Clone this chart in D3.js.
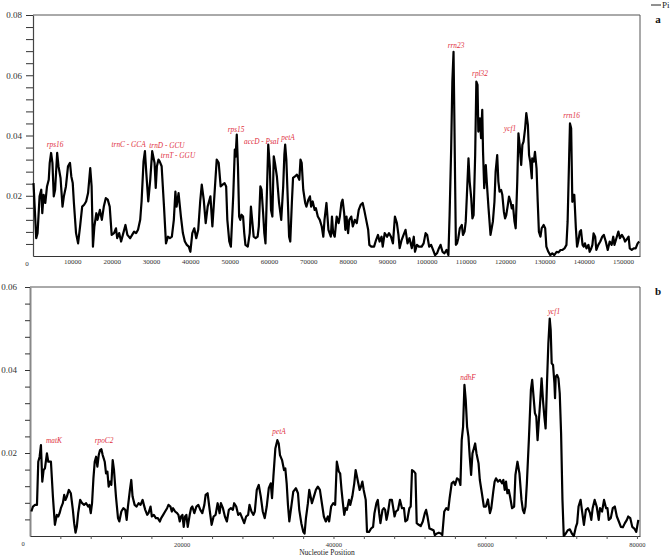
<!DOCTYPE html>
<html>
<head>
<meta charset="utf-8">
<script src="https://cdnjs.cloudflare.com/ajax/libs/d3/7.8.5/d3.min.js"></script>
<style>
	body { margin: 0; background: #fff; }
	svg text { font-family: 'Liberation Serif', 'DejaVu Serif', serif; }
</style>
</head>
<body>
<div id="chart"></div>
<script>

// sliding window Pi, [position in kb, Pi]
const piA = [
	[0.13,.0242],[0.82,.0059],[1.16,.0076],[1.67,.0198],[2.1,.022],[2.36,.0142],[2.7,.0203],[3.13,.0176],[3.56,.0231],[4.0,.0253],
	[4.25,.0309],[4.6,.0342],[4.94,.0309],[5.28,.0198],[5.62,.022],[6.14,.0342],[6.48,.0298],[7.0,.0259],[7.5,.0164],[7.85,.0198],
	[8.37,.0231],[8.9,.0298],[9.4,.0309],[9.74,.0264],[10.1,.0242],[10.4,.0176],[10.94,.0076],[11.46,.0042],[11.97,.0098],[12.5,.0164],
	[13.0,.017],[13.5,.0181],[14.0,.0209],[14.55,.0292],[14.9,.0231],[15.24,.0031],[15.6,.0098],[16.1,.0142],[16.4,.012],[17.0,.0153],
	[17.5,.012],[18.0,.0164],[18.5,.0192],[19.0,.0187],[19.5,.0164],[20.0,.007],[20.6,.0076],[21.1,.0092],[21.4,.0059],[21.9,.0076],
	[22.4,.0048],[22.96,.0076],[23.5,.0103],[24.0,.007],[24.7,.0059],[25.2,.007],[25.7,.0081],[26.2,.0076],[26.7,.0087],[27.25,.012],
	[27.6,.0181],[28.1,.0314],[28.45,.0348],[28.8,.0276],[29.3,.0181],[29.8,.0253],[30.3,.0348],[30.9,.0309],[31.2,.0226],[31.5,.0298],
	[31.9,.032],[32.2,.0314],[32.7,.0298],[33.3,.0164],[33.8,.0042],[34.3,.0064],[34.8,.0059],[35.3,.0064],[35.8,.012],[36.2,.0214],
	[36.5,.0164],[37.0,.0209],[37.6,.0131],[38.1,.0076],[38.6,.0048],[39.1,.0037],[39.6,.0031],[40.0,.0014],[40.5,.0076],[41.0,.0092],
	[41.5,.0059],[42.0,.0087],[42.5,.0181],[42.9,.0237],[43.4,.0187],[43.9,.0109],[44.4,.0164],[45.1,.0198],[45.6,.0098],[46.1,.0198],
	[46.7,.032],[47.2,.0309],[47.7,.0231],[48.2,.0237],[48.7,.0242],[49.1,.0231],[49.4,.012],[49.9,.0048],[50.3,.0031],[50.9,.02],
	[51.3,.0353],[51.5,.033],[51.8,.0403],[52.1,.0298],[52.4,.0131],[52.7,.012],[53.0,.0137],[53.4,.0131],[53.7,.0076],[54.0,.0037],
	[54.6,.0031],[55.1,.0076],[55.4,.0164],[55.7,.012],[56.1,.0064],[56.6,.0059],[57.1,.0064],[57.4,.0098],[57.8,.0231],[58.1,.022],
	[58.5,.0142],[58.8,.0076],[59.1,.0042],[59.5,.0231],[59.8,.037],[60.2,.0298],[60.5,.0153],[60.85,.0131],[61.2,.0331],[61.5,.0309],
	[62.0,.0264],[62.55,.0176],[63.1,.012],[63.6,.0231],[63.9,.0337],[64.1,.037],[64.4,.032],[64.8,.0176],[65.1,.0064],[65.4,.0048],
	[65.8,.0176],[66.1,.0259],[66.6,.0264],[67.1,.027],[67.7,.0253],[68.0,.032],[68.3,.0309],[68.7,.022],[69.2,.0176],[69.5,.0164],
	[70.0,.0187],[70.4,.0198],[70.7,.0164],[71.1,.0181],[71.6,.0153],[71.9,.0159],[72.4,.0131],[72.9,.012],[73.4,.0098],[73.8,.0064],
	[74.1,.012],[74.6,.0176],[75.1,.0087],[75.7,.0064],[76.0,.0131],[76.3,.0076],[76.7,.0064],[77.2,.0131],[77.7,.0109],[78.0,.0131],
	[78.4,.0176],[78.7,.0187],[79.1,.0142],[79.4,.0087],[79.7,.0131],[80.1,.0076],[80.4,.012],[80.9,.0131],[81.3,.0098],[81.8,.012],
	[82.3,.0109],[82.8,.0153],[83.3,.017],[83.8,.0176],[84.2,.0153],[84.7,.012],[85.2,.0087],[85.5,.0037],[86.0,.0031],[86.7,.0031],
	[87.2,.0053],[87.7,.007],[88.1,.0048],[88.6,.0064],[88.9,.0031],[89.4,.0076],[90.0,.0064],[90.5,.0076],[91.0,.0064],[91.5,.0042],
	[92.0,.0131],[92.5,.0109],[92.9,.007],[93.2,.0026],[93.7,.0053],[94.2,.007],[94.7,.0087],[95.2,.0042],[95.7,.0059],[96.3,.0026],
	[96.8,.0064],[97.1,.0014],[97.6,.0037],[98.1,.0031],[98.8,.0031],[99.3,.0042],[99.8,.0076],[100.2,.007],[100.7,.0031],[101.2,.0037],
	[101.7,.002],[102.2,.0003],[102.7,.0009],[103.2,.0026],[103.6,.0037],[104.1,.0014],[104.6,.0009],[105.1,.002],[105.6,.0003],[105.9,.0136],
	[106.3,.0357],[106.6,.0579],[106.9,.0678],[107.1,.0468],[107.3,.0247],[107.5,.0037],[107.8,.0042],[108.1,.0059],[108.5,.0092],[109.0,.0103],
	[109.3,.007],[109.7,.0081],[110.0,.0114],[110.3,.0203],[110.7,.0324],[111.0,.0247],[111.4,.0192],[111.7,.0125],[112.0,.0136],[112.4,.0335],
	[112.7,.0579],[113.0,.0568],[113.2,.0413],[113.6,.0457],[113.9,.0391],[114.2,.0485],[114.4,.0346],[114.7,.0225],[115.1,.0302],[115.4,.0236],
	[115.8,.0158],[116.3,.007],[116.6,.0092],[116.9,.0114],[117.3,.018],[117.6,.028],[118.0,.0335],[118.3,.0247],[118.6,.0214],[119.0,.0219],
	[119.3,.0203],[119.7,.0147],[120.0,.0125],[120.3,.0136],[120.7,.0169],[121.0,.0197],[121.4,.018],[121.7,.0158],[122.0,.0169],[122.4,.0114],
	[122.7,.0092],[123.1,.0247],[123.4,.0407],[123.7,.0369],[124.1,.0302],[124.4,.0369],[124.7,.038],[125.1,.0424],[125.4,.0474],[125.8,.0435],
	[126.1,.0335],[126.4,.0313],[126.8,.0258],[126.9,.0324],[127.3,.0313],[127.6,.0346],[128.0,.0291],[128.3,.018],[128.6,.0081],[129.0,.0064],
	[129.3,.0092],[129.8,.0103],[130.2,.0092],[130.5,.0031],[131.0,.0014],[131.5,.0003],[132.0,.0009],[132.5,.0003],[133.1,.0014],[133.6,.0012],
	[134.1,.002],[134.6,.002],[135.1,.0025],[135.6,.0037],[135.9,.0114],[136.3,.0335],[136.5,.044],[136.8,.0424],[137.1,.018],[137.4,.0203],
	[137.6,.0203],[138.0,.0092],[138.3,.0031],[138.6,.0048],[139.0,.0081],[139.3,.0086],[139.7,.0037],[140.0,.0031],[140.3,.0042],[140.7,.0025],
	[141.2,.0037],[141.5,.0014],[141.9,.0025],[142.2,.0037],[142.5,.0075],[142.9,.0064],[143.2,.002],[143.7,.0037],[144.2,.0048],[144.7,.0064],
	[145.1,.007],[145.6,.0048],[146.1,.002],[146.6,.0048],[147.1,.0037],[147.5,.0064],[147.8,.0037],[148.3,.0059],[148.8,.0081],[149.2,.0059],
	[149.7,.007],[150.2,.0059],[150.5,.0048],[150.8,.0053],[151.4,.0064],[151.7,.0025],[152.2,.002],[152.7,.0025],[153.2,.0025],[153.7,.0042],
	[154.1,.0048]
];

const piB = [
	[0.18,.0059],[0.39,.0071],[0.66,.0075],[0.92,.0075],[1.09,.0179],[1.27,.0191],[1.44,.0219],[1.62,.0131],[1.79,.0159],[1.97,.0163],
	[2.23,.0199],[2.41,.0179],[2.58,.0179],[2.76,.0179],[3.02,.0095],[3.28,.0027],[3.54,.0051],[3.72,.0047],[3.9,.0055],[4.07,.0067],
	[4.33,.0079],[4.51,.0099],[4.68,.0087],[4.86,.0095],[5.12,.0111],[5.38,.0103],[5.65,.0063],[5.82,.0031],[6.0,.0008],[6.17,.0022],
	[6.35,.0055],[6.61,.0087],[6.87,.0079],[7.13,.0075],[7.4,.0079],[7.66,.0071],[7.83,.0075],[8.01,.0055],[8.18,.0079],[8.36,.0139],
	[8.53,.0179],[8.71,.0191],[8.88,.0167],[9.06,.0195],[9.23,.0207],[9.41,.0209],[9.58,.0195],[9.85,.0179],[10.02,.0151],[10.2,.0155],
	[10.37,.0119],[10.55,.0131],[10.72,.0123],[10.9,.0183],[11.07,.0159],[11.33,.0095],[11.6,.0043],[11.77,.0035],[12.04,.0059],[12.3,.0067],
	[12.56,.0063],[12.74,.0039],[12.91,.0071],[13.17,.0111],[13.35,.0135],[13.52,.0095],[13.79,.0075],[14.05,.0071],[14.31,.0079],[14.57,.0075],
	[14.84,.0087],[15.01,.0075],[15.19,.0063],[15.45,.0051],[15.62,.0055],[15.89,.0071],[16.06,.0047],[16.32,.0051],[16.59,.0043],[16.85,.0043],
	[17.11,.0035],[17.29,.0043],[17.55,.0051],[17.81,.0059],[18.07,.0067],[18.25,.0075],[18.51,.0071],[18.69,.0059],[18.86,.0067],[19.12,.0059],
	[19.39,.0055],[19.56,.0051],[19.74,.0035],[19.91,.0047],[20.09,.0051],[20.26,.0022],[20.44,.0047],[20.61,.0051],[20.79,.0022],[21.05,.0051],
	[21.23,.0067],[21.4,.0071],[21.66,.0055],[21.93,.0071],[22.19,.0075],[22.45,.0063],[22.71,.0055],[22.98,.0075],[23.15,.0099],[23.41,.0103],
	[23.68,.0063],[23.94,.0027],[24.2,.0047],[24.46,.0051],[24.73,.0079],[24.99,.0055],[25.16,.0079],[25.43,.0067],[25.69,.0047],[25.95,.0035],
	[26.21,.0063],[26.48,.0067],[26.74,.0063],[26.91,.0079],[27.18,.0071],[27.44,.0051],[27.7,.0055],[27.97,.0043],[28.23,.0031],[28.49,.0047],
	[28.75,.0051],[28.93,.0075],[29.19,.0059],[29.45,.0051],[29.63,.0059],[29.89,.0111],[30.15,.0123],[30.42,.0095],[30.68,.0059],[30.94,.0043],
	[31.2,.0071],[31.47,.0115],[31.73,.0127],[31.9,.0091],[32.08,.0143],[32.34,.0211],[32.6,.0231],[32.78,.0223],[32.95,.0195],[33.22,.0183],
	[33.48,.0159],[33.65,.0163],[33.83,.0127],[34.0,.0075],[34.18,.0035],[34.44,.0071],[34.7,.0107],[35.05,.0115],[35.32,.0103],[35.49,.0063],
	[35.76,.0031],[36.02,.001],[36.19,.0006],[36.37,.0043],[36.63,.0079],[36.81,.0111],[36.98,.0095],[37.16,.0079],[37.42,.0095],[37.68,.0111],
	[37.94,.0119],[38.21,.0111],[38.47,.0079],[38.73,.0047],[38.99,.0035],[39.26,.0047],[39.43,.0035],[39.69,.0071],[39.96,.0079],[40.22,.0075],
	[40.44,.0179],[40.71,.0155],[40.88,.0151],[41.06,.0111],[41.24,.0079],[41.42,.0051],[41.59,.0067],[41.77,.0063],[42.04,.0087],[42.21,.0075],
	[42.48,.0095],[42.74,.0127],[42.92,.0159],[43.1,.0143],[43.27,.0127],[43.45,.0111],[43.63,.0119],[43.81,.0131],[43.98,.0111],[44.25,.0087],
	[44.42,.001],[44.69,.001],[44.96,.0018],[45.22,.0022],[45.4,.0055],[45.66,.0079],[45.84,.0087],[46.02,.0055],[46.19,.0031],[46.46,.0063],
	[46.64,.0067],[46.81,.0063],[46.99,.0039],[47.17,.0055],[47.43,.0087],[47.7,.0087],[47.88,.0067],[48.05,.0047],[48.23,.0059],[48.5,.0063],
	[48.76,.0087],[49.03,.0067],[49.29,.0067],[49.47,.0035],[49.73,.0039],[50.0,.0067],[50.18,.0071],[50.35,.0159],[50.62,.0155],[50.8,.0151],
	[50.97,.0031],[51.24,.0027],[51.5,.0024],[51.77,.0035],[52.04,.0055],[52.21,.0063],[52.39,.0047],[52.65,.0018],[52.92,.0016],[53.19,.0014],
	[53.36,.0002],[53.63,.0006],[53.89,.0008],[54.16,.0006],[54.34,.0002],[54.6,.0059],[54.87,.0067],[55.13,.0063],[55.31,.0091],[55.58,.0127],
	[55.84,.0131],[56.02,.0123],[56.28,.0139],[56.55,.0135],[56.73,.0123],[56.9,.0231],[57.08,.0263],[57.26,.0364],[57.43,.0328],[57.61,.0263],
	[57.79,.0239],[57.96,.0191],[58.14,.0147],[58.32,.0199],[58.5,.0211],[58.67,.0223],[58.85,.0199],[59.12,.0175],[59.29,.0135],[59.56,.0103],
	[59.82,.0071],[60.09,.0071],[60.35,.0088],[60.62,.0055],[60.8,.0067],[61.06,.0107],[61.24,.0131],[61.42,.0139],[61.68,.0131],[61.95,.0135],
	[62.21,.0127],[62.39,.0135],[62.57,.0111],[62.74,.0131],[62.92,.0103],[63.1,.0111],[63.27,.0095],[63.54,.0067],[63.81,.0071],[63.98,.0147],
	[64.25,.0179],[64.51,.0151],[64.78,.0087],[64.96,.0063],[65.13,.0055],[65.31,.0071],[65.49,.0127],[65.75,.0231],[66.02,.0352],[66.19,.0376],
	[66.37,.0336],[66.55,.0296],[66.73,.0288],[66.9,.0231],[67.08,.028],[67.26,.0328],[67.43,.038],[67.61,.0328],[67.79,.0288],[67.96,.0259],
	[68.14,.0368],[68.32,.0464],[68.5,.0524],[68.63,.0496],[68.76,.0416],[68.94,.0412],[69.12,.0368],[69.2,.0332],[69.29,.0384],[69.47,.0388],
	[69.65,.038],[69.82,.0344],[70.0,.0247],[70.18,.0087],[70.35,0],[70.62,.0006],[70.88,.0014],[71.15,.0016],[71.42,.0006],[71.68,0],
	[71.95,.0022],[72.12,.0031],[72.3,.0071],[72.57,.0087],[72.74,.0063],[73.01,.0027],[73.27,.0063],[73.54,.0067],[73.81,.0055],[73.98,.0039],
	[74.16,.0067],[74.42,.0087],[74.69,.0071],[74.96,.0039],[75.13,.0067],[75.4,.0059],[75.66,.0087],[75.93,.0067],[76.11,.0067],[76.28,.0039],
	[76.55,.0043],[76.81,.0067],[77.08,.0071],[77.35,.0047],[77.61,.0035],[77.88,.0022],[78.14,.0021],[78.41,.0031],[78.67,.0039],[78.85,.0047],
	[79.12,.0043],[79.38,.0022],[79.65,.0018],[79.91,.001],[80.18,.0039]
];

// gene labels: [name, position (bp), Pi]
const genesA = [
	['rps16', 5600, .0362], ['trnC - GCA', 24300, .0362], ['trnD - GCU', 34060, .0359], ['trnT - GGU', 36860, .0325],
	['rps15', 51600, .0413], ['accD - PsaI', 58080, .0372], ['petA', 64820, .0385], ['rrn23', 107520, .0691],
	['rpl32', 113630, .0599], ['ycf1', 121250, .0415], ['rrn16', 136890, .0459]
];
const genesB = [
	['matK', 3160, .0224], ['rpoC2', 9750, .0224], ['petA', 32820, .0246], ['ndhF', 57730, .0376], ['ycf1', 69060, .0535]
];

const aXTicks = d3.range(10000, 150001, 10000);
const aYTicks = [0.02, 0.04, 0.06, 0.08];
const bXTicks = d3.range(4000, 80001, 4000);
const bXLabels = [20000, 40000, 60000, 80000];
const bYTicks = [0.02, 0.04, 0.06];

const width = 672, height = 558;

const svg = d3.select('#chart')
	.append('svg')
		.attr('width', width)
		.attr('height', height)
		.style('background', '#fff');

function drawPanel(p) {
	let x = d3.scaleLinear().domain([0, p.xMax]).range([p.left, p.right]);
	let y = d3.scaleLinear().domain([0, p.yMax]).range([p.bottom, p.top]);
	let g = svg.append('g');

	// frame top & right
	g.append('path')
		.attr('d', `M${p.left},${p.top}H${p.right}V${p.bottom}`)
		.attr('fill', 'none')
		.attr('stroke', '#555')
		.attr('stroke-width', 1);

	// y axis, minor tick every 0.004
	let yTicks = d3.range(1, Math.round(p.yMax / 0.004) + 1).map(i => i * 0.004);
	let yAxis = g.append('g')
		.attr('transform', `translate(${p.left}, 0)`)
		.call(d3.axisLeft(y)
			.tickValues(yTicks)
			.tickSize(p.yTickSize)
			.tickSizeOuter(0)
			.tickPadding(p.yPad)
			.tickFormat(d => p.yLabels.some(t => Math.abs(t - d) < 1e-9) ? d3.format('.2f')(d) : ''));
	yAxis.select('.domain').attr('stroke', p.yAxisColor).attr('stroke-width', p.yAxisWidth);
	yAxis.selectAll('.tick line').attr('stroke', '#333');
	yAxis.selectAll('text')
		.style('font-size', '9px')
		.attr('fill', '#333');

	// x axis
	let xAxis = g.append('g')
		.attr('transform', `translate(0, ${p.bottom})`)
		.call(d3.axisBottom(x)
			.tickValues(p.xTicks)
			.tickSize(p.xTickSize)
			.tickSizeOuter(0)
			.tickPadding(3)
			.tickFormat(d => p.xLabels.includes(d) ? d : ''));
	xAxis.select('.domain').attr('stroke', '#333');
	xAxis.selectAll('.tick line').attr('stroke', '#555');
	xAxis.selectAll('text')
		.style('font-size', p.xFont)
		.attr('fill', '#333');

	g.append('text')
		.attr('x', p.zeroX)
		.attr('y', p.bottom + 10)
		.attr('text-anchor', 'middle')
		.style('font-size', p.xFont)
		.attr('fill', '#333')
		.text('0');

	// Pi curve
	let line = d3.line()
		.x(d => x(d[0] * 1000))
		.y(d => y(d[1]));

	g.append('path')
		.datum(p.data)
		.attr('d', line)
		.attr('fill', 'none')
		.attr('stroke', '#000')
		.attr('stroke-width', 2.2)
		.attr('stroke-linejoin', 'round');

	// gene names
	g.selectAll('.gene')
		.data(p.genes)
		.enter().append('text')
			.attr('class', 'gene')
			.attr('x', d => x(d[1]))
			.attr('y', d => y(d[2]))
			.attr('text-anchor', 'middle')
			.style('font-size', '7.3px')
			.style('font-style', 'italic')
			.attr('fill', '#e0303e')
			.text(d => d[0]);

	// panel letter
	g.append('text')
		.attr('x', 658)
		.attr('y', p.top + 8)
		.attr('text-anchor', 'middle')
		.style('font-size', '11px')
		.style('font-weight', 'bold')
		.attr('fill', '#111')
		.text(p.letter);
}

drawPanel({
	data: piA, genes: genesA, letter: 'a',
	xMax: 154300, yMax: 0.08,
	left: 33, right: 640, top: 15, bottom: 256,
	xTicks: aXTicks, xLabels: aXTicks, xTickSize: 0, xFont: '7px', zeroX: 27,
	yLabels: aYTicks, yTickSize: 7, yPad: 4, yAxisColor: '#444', yAxisWidth: 1.2
});

drawPanel({
	data: piB, genes: genesB, letter: 'b',
	xMax: 80400, yMax: 0.06,
	left: 30, right: 640, top: 287, bottom: 536,
	xTicks: bXTicks, xLabels: bXLabels, xTickSize: 3, xFont: '6.5px', zeroX: 23,
	yLabels: bYTicks, yTickSize: 5, yPad: 8, yAxisColor: '#888', yAxisWidth: 2
});

// legend
svg.append('line')
	.attr('x1', 651)
	.attr('x2', 661)
	.attr('y1', 5)
	.attr('y2', 5)
	.attr('stroke', '#222')
	.attr('stroke-width', 1);

svg.append('text')
	.attr('x', 662)
	.attr('y', 8)
	.style('font-size', '9px')
	.attr('fill', '#222')
	.text('Pi');

svg.append('text')
	.attr('x', 327)
	.attr('y', 555)
	.attr('text-anchor', 'middle')
	.style('font-size', '7.5px')
	.attr('fill', '#222')
	.text('Nucleotie Position');

</script>
</body>
</html>
